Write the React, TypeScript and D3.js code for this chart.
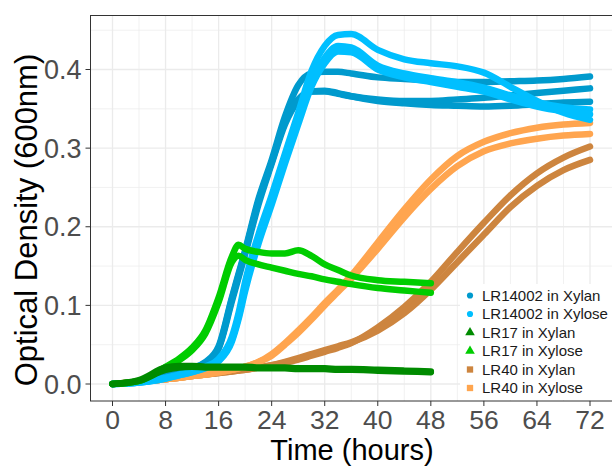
import React from 'react';
import * as d3 from 'd3';

// sampling times (hours)
const hours = [0, 4, 8, 10, 12, 14, 16, 18, 19, 20, 22, 24, 26, 28, 30, 32, 34, 36, 40, 44, 48, 52, 56, 60, 64, 68, 72];

// LR14002 in Xylan, three wells
const lr14002XylanA = [0, 0.003, 0.01, 0.015, 0.02, 0.028, 0.048, 0.11, 0.14, 0.17, 0.235, 0.285, 0.34, 0.38, 0.395, 0.397, 0.397, 0.395, 0.39, 0.388, 0.386, 0.384, 0.384, 0.385, 0.386, 0.388, 0.391];
const lr14002XylanB = [0, 0.003, 0.01, 0.014, 0.019, 0.026, 0.045, 0.105, 0.135, 0.165, 0.228, 0.28, 0.33, 0.36, 0.372, 0.373, 0.37, 0.366, 0.36, 0.357, 0.355, 0.354, 0.353, 0.354, 0.356, 0.358, 0.359];
const lr14002XylanC = [0, 0.003, 0.01, 0.015, 0.02, 0.027, 0.046, 0.108, 0.138, 0.168, 0.232, 0.282, 0.333, 0.362, 0.372, 0.372, 0.369, 0.366, 0.362, 0.36, 0.36, 0.362, 0.364, 0.367, 0.37, 0.373, 0.376];

// LR14002 in Xylose
const lr14002XyloseA = [0, 0.002, 0.008, 0.012, 0.016, 0.022, 0.032, 0.06, 0.09, 0.13, 0.19, 0.24, 0.293, 0.345, 0.398, 0.43, 0.444, 0.445, 0.425, 0.413, 0.408, 0.404, 0.396, 0.378, 0.36, 0.345, 0.336];
const lr14002XyloseB = [0, 0.002, 0.007, 0.011, 0.015, 0.021, 0.03, 0.056, 0.085, 0.122, 0.182, 0.232, 0.285, 0.335, 0.385, 0.415, 0.43, 0.428, 0.405, 0.395, 0.389, 0.384, 0.377, 0.367, 0.358, 0.352, 0.349];
const lr14002XyloseC = [0, 0.002, 0.007, 0.011, 0.015, 0.02, 0.029, 0.054, 0.082, 0.118, 0.178, 0.228, 0.28, 0.33, 0.378, 0.408, 0.423, 0.422, 0.4, 0.39, 0.384, 0.378, 0.372, 0.362, 0.353, 0.347, 0.343];

// LR17 (measured up to 48 h)
const lr17XylanA = [0, 0.005, 0.021, 0.023, 0.023, 0.022, 0.022, 0.022, 0.022, 0.022, 0.021, 0.021, 0.021, 0.02, 0.02, 0.02, 0.019, 0.019, 0.018, 0.017, 0.016];
const lr17XylanB = [0, 0.004, 0.018, 0.021, 0.022, 0.021, 0.021, 0.021, 0.021, 0.021, 0.02, 0.02, 0.02, 0.019, 0.019, 0.019, 0.018, 0.018, 0.017, 0.016, 0.015];
const lr17XyloseA = [0, 0.004, 0.022, 0.032, 0.046, 0.068, 0.11, 0.162, 0.177, 0.172, 0.168, 0.166, 0.166, 0.17, 0.163, 0.152, 0.145, 0.138, 0.132, 0.13, 0.128];
const lr17XyloseB = [0, 0.004, 0.021, 0.03, 0.043, 0.064, 0.104, 0.155, 0.163, 0.158, 0.152, 0.148, 0.144, 0.14, 0.137, 0.133, 0.13, 0.127, 0.122, 0.119, 0.116];

// LR40
const lr40XylanA = [0, 0.003, 0.006, 0.008, 0.01, 0.012, 0.014, 0.016, 0.017, 0.018, 0.021, 0.024, 0.027, 0.031, 0.036, 0.041, 0.046, 0.052, 0.072, 0.098, 0.13, 0.168, 0.205, 0.24, 0.268, 0.288, 0.302];
const lr40XylanB = [0, 0.003, 0.006, 0.008, 0.01, 0.012, 0.014, 0.016, 0.017, 0.018, 0.021, 0.024, 0.028, 0.033, 0.038, 0.043, 0.048, 0.053, 0.068, 0.09, 0.12, 0.155, 0.19, 0.225, 0.252, 0.272, 0.285];
const lr40XyloseA = [0, 0.003, 0.006, 0.008, 0.01, 0.012, 0.015, 0.018, 0.02, 0.022, 0.028, 0.038, 0.052, 0.068, 0.085, 0.103, 0.12, 0.138, 0.18, 0.222, 0.26, 0.29, 0.308, 0.319, 0.326, 0.33, 0.332];
const lr40XyloseB = [0, 0.003, 0.006, 0.008, 0.01, 0.012, 0.015, 0.018, 0.02, 0.022, 0.028, 0.036, 0.05, 0.065, 0.082, 0.1, 0.117, 0.134, 0.172, 0.212, 0.248, 0.277, 0.296, 0.306, 0.312, 0.316, 0.318];

const legendLabels = ['LR14002 in Xylan', 'LR14002 in Xylose', 'LR17 in Xylan', 'LR17 in Xylose', 'LR40 in Xylan', 'LR40 in Xylose'];
const legendColors = ['#009ACD', '#00BFFF', '#008B00', '#00CD00', '#CD853F', '#FFA54F'];
const legendShapes = ['circle', 'circle', 'triangle', 'triangle', 'square', 'square'];

const xTicks = [0, 8, 16, 24, 32, 40, 48, 56, 64, 72];
const yTicks = [0, 0.1, 0.2, 0.3, 0.4];

// drawing order (which group sits on top)
const groups = [
  { key: 4, wells: [lr40XylanA, lr40XylanB] },
  { key: 5, wells: [lr40XyloseA, lr40XyloseB] },
  { key: 0, wells: [lr14002XylanA, lr14002XylanB, lr14002XylanC] },
  { key: 1, wells: [lr14002XyloseA, lr14002XyloseB, lr14002XyloseC] },
  { key: 3, wells: [lr17XyloseA, lr17XyloseB] },
  { key: 2, wells: [lr17XylanA, lr17XylanB] },
];

const W = 612, H = 466;
const font = '"Liberation Sans", Arial, Helvetica, sans-serif';

export default function App() {
  const x = d3.scaleLinear().domain([0, 72]).range([112.5, 590]);
  const y = d3.scaleLinear().domain([0, 0.4]).range([384, 69.5]);
  const left = 90.5, top = 15.5, bottom = 401, right = 640;

  const line = d3.line<number>()
    .x((d, i) => x(hours[i]))
    .y((d) => y(d))
    .curve(d3.curveMonotoneX);

  const xMinor = d3.range(4, 72, 8);
  const yMinor = [0.05, 0.15, 0.25, 0.35, 0.45];

  const symbol = (shape: string) =>
    d3.symbol().type(shape === 'circle' ? d3.symbolCircle : shape === 'triangle' ? d3.symbolTriangle : d3.symbolSquare)
      .size(shape === 'circle' ? 30 : 40)();

  return (
    <svg width={W} height={H} style={{ position: 'absolute', left: 0, top: 0, fontFamily: font }}>
      <rect width={W} height={H} fill="white" />
      <defs>
        <clipPath id="panel">
          <rect x={left} y={top} width={right - left} height={bottom - top} />
        </clipPath>
      </defs>
      <g>
        {xMinor.map((t) => (
          <line key={'xm' + t} x1={x(t)} x2={x(t)} y1={top} y2={bottom} stroke="#EBEBEB" strokeWidth={0.7} />
        ))}
        {yMinor.map((v) => (
          <line key={'ym' + v} x1={left} x2={W} y1={y(v)} y2={y(v)} stroke="#EBEBEB" strokeWidth={0.7} />
        ))}
        {xTicks.map((t) => (
          <line key={'xg' + t} x1={x(t)} x2={x(t)} y1={top} y2={bottom} stroke="#EBEBEB" strokeWidth={1.3} />
        ))}
        {yTicks.map((v) => (
          <line key={'yg' + v} x1={left} x2={W} y1={y(v)} y2={y(v)} stroke="#EBEBEB" strokeWidth={1.3} />
        ))}
      </g>
      <g clipPath="url(#panel)">
        {groups.map((g) =>
          g.wells.map((w, j) => (
            <path key={g.key + '-' + j} d={line(w) || ''} fill="none" stroke={legendColors[g.key]}
              strokeWidth={6.5} strokeLinecap="round" strokeLinejoin="round" />
          ))
        )}
      </g>
      {/* legend */}
      <rect x={460} y={284} width={W - 460} height={bottom - 285} fill="white" />
      {legendLabels.map((lab, i) => {
        const cy = 295.5 + i * 18.5;
        return (
          <g key={lab}>
            <path d={symbol(legendShapes[i]) || ''} transform={`translate(470,${cy})`} fill={legendColors[i]} />
            <text x={482} y={cy} dy="0.35em" fontSize={15} fill="#1A1A1A">{lab}</text>
          </g>
        );
      })}
      {/* panel border */}
      <rect x={left} y={top} width={right - left} height={bottom - top} fill="none" stroke="#333333" strokeWidth={1} />
      {/* axes */}
      {xTicks.map((t) => (
        <g key={'xt' + t}>
          <line x1={x(t)} x2={x(t)} y1={bottom} y2={bottom + 5} stroke="#333333" />
          <text x={x(t)} y={428.5} textAnchor="middle" fontSize={26.5} fill="#4D4D4D">{t}</text>
        </g>
      ))}
      {yTicks.map((v) => (
        <g key={'yt' + v}>
          <line x1={left - 5} x2={left} y1={y(v)} y2={y(v)} stroke="#333333" />
          <text x={81.5} y={y(v)} dy="0.36em" textAnchor="end" fontSize={27} fill="#4D4D4D">{v.toFixed(1)}</text>
        </g>
      ))}
      <text x={352} y={459.5} textAnchor="middle" fontSize={29} fill="black">Time (hours)</text>
      <text transform="translate(37,220) rotate(-90)" textAnchor="middle" fontSize={31} fill="black">Optical Density (600nm)</text>
    </svg>
  );
}
